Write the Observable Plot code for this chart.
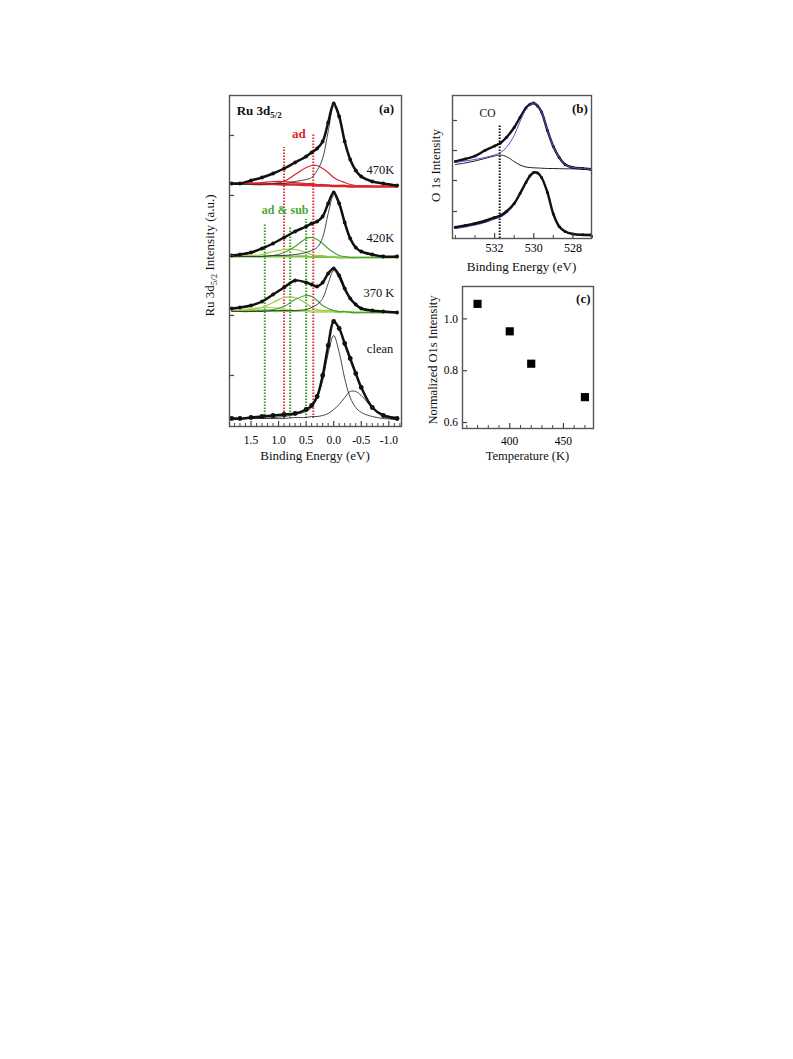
<!DOCTYPE html>
<html><head><meta charset="utf-8">
<script src="https://cdn.jsdelivr.net/npm/d3@7"></script>
<script src="https://cdn.jsdelivr.net/npm/@observablehq/plot@0.6"></script>
<style>
body{margin:0;background:#fff;}
#fig{position:relative;width:793px;height:1059px;}
#fig svg{position:absolute;overflow:visible;background:transparent;max-width:none;}
</style></head><body><div id="fig"></div>
<script>
const FONT = "'Liberation Serif','Times New Roman',serif";

// ---------- Panel (a): Ru 3d5/2 spectra (arbitrary units) ----------
const energyA = [1.85, 1.7, 1.5, 1.3, 1.1, 0.9, 0.7, 0.5, 0.4, 0.3, 0.2, 0.1, 0.0, -0.1, -0.2, -0.3, -0.4, -0.5, -0.7, -0.9, -1.15];
const data470 = [243, 243, 246, 249, 253, 258, 264, 270, 274, 278, 285, 304, 323, 310, 285, 267, 256, 250, 245, 243, 241];
const main470 = [242, 242, 242, 242, 243, 243, 245, 247, 249, 256, 268, 295, 320, 309, 284, 266, 256, 250, 245, 243, 241];
const ad1_470 = [242, 242, 242, 242, 243, 245, 252, 259, 261, 261, 258, 254, 249, 246, 244, 242, 241, 241, 240, 240, 240];
const ad2_470 = [242, 243, 243, 244, 245, 245, 244, 243, 243, 242, 242, 241, 241, 241, 241, 240, 240, 240, 240, 240, 240];
const bg470   = [243, 243, 243, 242.5, 242.5, 242, 242, 241.5, 241.5, 241, 241, 241, 240.5, 240.5, 240.5, 240, 240, 240, 240, 240, 240];

const data420 = [171, 172, 174, 178, 183, 189, 195, 200, 203, 205, 210, 223, 234, 223, 204, 188, 179, 175, 172, 170, 170];
const main420 = [170, 170, 170, 170, 171, 171, 172, 174, 176, 179, 189, 213, 231, 221, 203, 187, 179, 175, 171, 170, 169];
const g1_420  = [170, 170, 170, 170, 171, 174, 180, 188, 189, 187, 183, 178, 174, 171, 170, 169, 169, 169, 169, 169, 169];
const g2_420  = [170, 170, 171, 172, 175, 177, 177, 174, 172, 171, 171, 170, 170, 169, 169, 169, 169, 169, 169, 169, 169];
const bg420   = [170, 170, 170, 170, 170, 170, 170, 170, 169.5, 169.5, 169.5, 169.5, 169.5, 169, 169, 169, 169, 169, 169, 169, 169];

const data370 = [118, 119, 121, 125, 132, 139, 146, 144, 142, 140, 144, 153, 158, 151, 138, 128, 122, 118, 116, 115, 114];
const main370 = [115, 115, 115, 115, 116, 116, 116, 117, 119, 122, 128, 143, 156, 148, 136, 127, 121, 118, 116, 115, 114];
const g1_370  = [115, 115, 115, 116, 117, 120, 127, 131, 130, 126, 121, 118, 116, 115, 115, 114, 114, 114, 114, 114, 114];
const g2_370  = [116, 116, 117, 119, 124, 129, 129, 123, 119, 117, 116, 116, 115, 115, 115, 114, 114, 114, 114, 114, 114];
const g3_370  = [116, 116, 118, 119, 119, 117, 116, 115, 115, 115, 115, 115, 115, 115, 114, 114, 114, 114, 114, 114, 114];
const bg370   = [116, 116, 116, 116, 115.5, 115.5, 115.5, 115.5, 115, 115, 115, 115, 115, 114.5, 114.5, 114.5, 114, 114, 114, 114, 114];

const dataClean = [8, 8, 9, 10, 11, 12, 13, 17, 21, 30, 51, 81, 105, 98, 83, 68, 53, 39, 19, 11, 8];
const mainClean = [7, 8, 8, 8, 9, 10, 12, 15, 19, 29, 46, 73, 91, 74, 48, 29, 19, 14, 10, 8, 7];
const surfClean = [7, 7, 8, 8, 8, 8, 9, 9, 10, 10, 11, 13, 17, 22, 29, 35, 35, 31, 19, 12, 9];

const markerE      = [1.25, 0.79, 0.50, 0.90, 0.37];
const markerTop    = [203, 199, 207, 279, 293];
const markerKind   = ["sub", "sub", "sub", "ad", "ad"];
const markerBottom = 8;

const specNames  = ["470K", "420K", "370 K", "clean"];
const specLabelE = [-1.1, -1.1, -1.1, -1.08];
const specLabelY = [257, 189, 134, 77.5];

const majorTicksA = [1.5, 1.0, 0.5, 0.0, -0.5, -1.0];
const minorTicksA = [1.8, 1.7, 1.6, 1.4, 1.3, 1.2, 1.1, 0.9, 0.8, 0.7, 0.6, 0.4, 0.3, 0.2, 0.1, -0.1, -0.2, -0.3, -0.4, -0.6, -0.7, -0.8, -0.9, -1.1, -1.2];
const yTicksA = [291, 231, 171, 111, 51];

// ---------- Panel (b): O 1s spectra ----------
const energyB = [534.0, 533.5, 533.0, 532.5, 532.0, 531.7, 531.4, 531.0, 530.7, 530.4, 530.2, 530.0, 529.8, 529.6, 529.3, 529.0, 528.7, 528.4, 528.0, 527.5, 527.1];
const topData = [77, 79.5, 82.5, 88, 92.5, 95.5, 101, 111, 121, 130.5, 134, 135.5, 132.5, 126.5, 108, 92, 81, 74, 71, 70, 69.3];
const topFit  = [76, 77.5, 79, 81, 83.5, 86, 91, 103, 117, 129, 133.5, 135.5, 132.5, 126.5, 108, 92, 81, 74, 71, 70, 69.3];
const topCO   = [74, 75.5, 77.5, 80, 82.5, 83.5, 82, 77, 73.5, 71.5, 71, 70.7, 70.5, 70.3, 70, 70, 69.8, 69.7, 69.7, 69.5, 69.5];
const lowData = [11.3, 13, 15, 17.5, 21, 23, 27, 35, 45, 56, 62.5, 66, 65.5, 61, 46, 24.5, 12, 7, 4.5, 3.7, 3.5];
const lowFit  = [10, 11.5, 13.5, 16, 19.5, 21.5, 25.5, 34, 44.5, 55.5, 62.5, 66, 65.5, 61, 46, 24.5, 12, 7, 4.5, 3.5, 3];
const coE = 531.74, coTop = 113;
const majorTicksB = [532, 530, 528];
const minorTicksB = [534, 533, 531, 529, 527];
const yTicksB = [118, 88, 58, 27];

// ---------- Panel (c): normalized O1s intensity ----------
const temps = [370, 400, 420, 470];
const normO1s = [1.058, 0.952, 0.827, 0.698];
const majorTicksC = [400, 450];
const minorTicksC = [360, 370, 380, 390, 410, 420, 430, 440, 460, 470];
const yTicksC = [0.6, 0.8, 1.0];

const RED = "#d8262d", GREEN1 = "#45a235", GREEN2 = "#98cb3e", GREEN3 = "#b9db5c", GREENBG = "#7dc244", BLUE = "#5b4fd0";
const pts = (xs, ys) => xs.map((x, i) => ({x, y: ys[i]}));
const baseStyle = {fontFamily: FONT, fontSize: "12px", background: "transparent", color: "#000"};
const thin = (ys, stroke, w = 0.9) => Plot.line(pts(energyA, ys), {x: "x", y: "y", curve: "catmull-rom", stroke, strokeWidth: w});
const spec = (ys, r = 1.9) => [
  Plot.line(pts(energyA, ys), {x: "x", y: "y", curve: "catmull-rom", stroke: "#111", strokeWidth: 2.5}),
  Plot.dot(pts(energyA, ys), {x: "x", y: "y", r, fill: "#111"})
];

const fig = document.getElementById("fig");
function place(svg, left, top) { svg.style.left = left + "px"; svg.style.top = top + "px"; fig.appendChild(svg); }

// ---- (a)
const FA = {w: 220, h: 385, ml: 39, mr: 9, mt: 10, mb: 44};
const fhA = FA.h - FA.mt - FA.mb, fwA = FA.w - FA.ml - FA.mr;
const chartA = Plot.plot({
  width: FA.w, height: FA.h, marginLeft: FA.ml, marginRight: FA.mr, marginTop: FA.mt, marginBottom: FA.mb,
  x: {domain: [1.89, -1.23]},
  y: {domain: [0, 331], axis: null},
  style: baseStyle,
  marks: [
    Plot.ruleX(markerE.map((e, i) => i).filter(i => markerKind[i] === "sub"), {x: i => markerE[i], y1: markerBottom, y2: i => markerTop[i], stroke: "#3a9a2a", strokeWidth: 2, strokeDasharray: "1.4,1.6"}),
    Plot.ruleX(markerE.map((e, i) => i).filter(i => markerKind[i] === "ad"), {x: i => markerE[i], y1: markerBottom, y2: i => markerTop[i], stroke: "#e2313b", strokeWidth: 2, strokeDasharray: "1.4,1.6"}),
    // 470K
    thin(bg470, RED, 2.4), thin(ad2_470, RED, 1.2), thin(ad1_470, RED, 1.2), thin(main470, "#333"),
    ...spec(data470),
    // 420K
    thin(bg420, GREENBG, 2.2), thin(g2_420, GREEN2, 1.2), thin(g1_420, GREEN1, 1.2), thin(main420, "#333"),
    ...spec(data420),
    // 370K
    thin(bg370, GREENBG, 2.2), thin(g3_370, GREEN3, 1.2), thin(g2_370, GREEN2, 1.2), thin(g1_370, GREEN1, 1.2), thin(main370, "#333"),
    ...spec(data370),
    // clean
    thin(surfClean, "#333"), thin(mainClean, "#333"),
    ...spec(dataClean, 2.4),
    Plot.tickX(majorTicksA, {x: d => d, insetTop: fhA - 5, stroke: "#444", strokeWidth: 1.2}),
    Plot.tickX(minorTicksA, {x: d => d, insetTop: fhA - 3, stroke: "#444", strokeWidth: 1}),
    Plot.tickY(yTicksA, {y: d => d, insetRight: fwA - 5, stroke: "#444", strokeWidth: 1.2}),
    Plot.frame({stroke: "#555", strokeWidth: 1.4}),
    Plot.axisX({ticks: majorTicksA, tickSize: 0, tickPadding: 9.5, tickFormat: d => d.toFixed(1), label: null, fontSize: 11.5}),
    Plot.text(specNames, {x: specLabelE, y: specLabelY, textAnchor: "end", fontSize: 12.5, fill: "#111"}),
    Plot.text(["ad"], {x: [0.63], y: [293], fill: RED, fontWeight: "bold", fontSize: 13}),
    Plot.text(["ad & sub"], {x: [0.88], y: [216], fill: "#4aa83a", fontWeight: "bold", fontSize: 12}),
    Plot.text(["(a)"], {x: [-0.96], y: [318], fontWeight: "bold", fontSize: 13, fill: "#111"})
  ]
});
place(chartA, 190, 85);

// ---- (b)
const FB = {w: 185, h: 190, ml: 37, mr: 9, mt: 10, mb: 37};
const fhB = FB.h - FB.mt - FB.mb, fwB = FB.w - FB.ml - FB.mr;
const chartB = Plot.plot({
  width: FB.w, height: FB.h, marginLeft: FB.ml, marginRight: FB.mr, marginTop: FB.mt, marginBottom: FB.mb,
  x: {domain: [534.15, 527.05]},
  y: {domain: [0, 143], axis: null},
  style: baseStyle,
  marks: [
    Plot.ruleX([coE], {x: d => d, y1: 0, y2: coTop, stroke: "#111", strokeWidth: 2, strokeDasharray: "1.4,1.6"}),
    Plot.line(pts(energyB, topCO), {x: "x", y: "y", curve: "catmull-rom", stroke: "#222", strokeWidth: 1}),
    Plot.line(pts(energyB, topData), {x: "x", y: "y", curve: "catmull-rom", stroke: "#111", strokeWidth: 2.4}),
    Plot.dot(pts(energyB, topData), {x: "x", y: "y", r: 1.5, fill: "#111"}),
    Plot.line(pts(energyB, topFit), {x: "x", y: "y", curve: "catmull-rom", stroke: BLUE, strokeWidth: 1}),
    Plot.line(pts(energyB, lowFit), {x: "x", y: "y", curve: "catmull-rom", stroke: BLUE, strokeWidth: 1.2}),
    Plot.line(pts(energyB, lowData), {x: "x", y: "y", curve: "catmull-rom", stroke: "#111", strokeWidth: 2.4}),
    Plot.dot(pts(energyB, lowData), {x: "x", y: "y", r: 1.5, fill: "#111"}),
    Plot.tickX(majorTicksB, {x: d => d, insetTop: fhB - 5, stroke: "#444", strokeWidth: 1.2}),
    Plot.tickX(minorTicksB, {x: d => d, insetTop: fhB - 3, stroke: "#444", strokeWidth: 1}),
    Plot.tickY(yTicksB, {y: d => d, insetRight: fwB - 5, stroke: "#444", strokeWidth: 1.2}),
    Plot.frame({stroke: "#555", strokeWidth: 1.4}),
    Plot.axisX({ticks: majorTicksB, tickSize: 0, tickPadding: 4.5, tickFormat: d => String(d), label: null, fontSize: 12}),
    Plot.text(["CO"], {x: [532.36], y: [125], fontSize: 11.5, fill: "#111"}),
    Plot.text(["(b)"], {x: [527.64], y: [130], fontWeight: "bold", fontSize: 13, fill: "#111"})
  ]
});
place(chartB, 415, 85);

// ---- (c)
const FC = {w: 185, h: 195, ml: 47, mr: 7, mt: 11, mb: 42};
const fhC = FC.h - FC.mt - FC.mb, fwC = FC.w - FC.ml - FC.mr;
const chartC = Plot.plot({
  width: FC.w, height: FC.h, marginLeft: FC.ml, marginRight: FC.mr, marginTop: FC.mt, marginBottom: FC.mb,
  x: {domain: [356, 478]},
  y: {domain: [0.577, 1.125]},
  style: baseStyle,
  marks: [
    Plot.tickX(majorTicksC, {x: d => d, insetTop: fhC - 5, stroke: "#444", strokeWidth: 1.2}),
    Plot.tickX(minorTicksC, {x: d => d, insetTop: fhC - 3, stroke: "#444", strokeWidth: 1}),
    Plot.tickY(yTicksC, {y: d => d, insetRight: fwC - 5, stroke: "#444", strokeWidth: 1.2}),
    Plot.dot(pts(temps, normO1s), {x: "x", y: "y", symbol: "square", r: 4.6, fill: "#000"}),
    Plot.frame({stroke: "#555", strokeWidth: 1.4}),
    Plot.axisX({ticks: majorTicksC, tickSize: 0, tickPadding: 8.5, tickFormat: d => String(d), label: null, fontSize: 11.5}),
    Plot.axisY({ticks: yTicksC, tickSize: 0, tickPadding: 4.5, tickFormat: d => d.toFixed(1), label: null, fontSize: 11.5}),
    Plot.text(["(c)"], {x: [468.5], y: [1.078], fontWeight: "bold", fontSize: 13, fill: "#111"})
  ]
});
place(chartC, 415, 275);

// ---- titles (real SVG text, positioned through each chart's scales / frame)
function title(svg, x, y, rotate, parts, size = 13, weight = "normal", anchor = "middle") {
  const t = d3.select(svg).append("text")
    .attr("transform", `translate(${x},${y})` + (rotate ? " rotate(-90)" : ""))
    .attr("text-anchor", anchor).attr("dy", "0.35em")
    .attr("font-family", FONT).attr("font-size", size).attr("font-weight", weight).attr("fill", "#111");
  parts.forEach(p => {
    const s = t.append("tspan").text(p.t);
    if (p.sub) s.attr("font-size", size * 0.68).attr("dy", 3.5);
    if (p.back) s.attr("dy", -3.5);
  });
}
const sxA = chartA.scale("x"), syA = chartA.scale("y");
title(chartA, sxA.apply(1.75), syA.apply(316), false, [{t: "Ru 3d"}, {t: "5/2", sub: true}], 13, "bold", "start");
title(chartA, 19, FA.mt + fhA / 2 - 5, true, [{t: "Ru 3d"}, {t: "5/2", sub: true}, {t: " Intensity (a.u.)", back: true}], 13);
title(chartA, FA.ml + fwA / 2, FA.h - FA.mb + 29.5, false, [{t: "Binding Energy (eV)"}], 13);
title(chartB, 20, FB.mt + fhB / 2 - 1, true, [{t: "O 1s Intensity"}], 13);
title(chartB, FB.ml + fwB / 2, FB.h - FB.mb + 28, false, [{t: "Binding Energy (eV)"}], 13);
title(chartC, 18, FC.mt + fhC / 2 + 3, true, [{t: "Normalized O1s Intensity"}], 12.5);
title(chartC, FC.ml + fwC / 2, FC.h - FC.mb + 27.5, false, [{t: "Temperature (K)"}], 12.5);
</script></body></html>
